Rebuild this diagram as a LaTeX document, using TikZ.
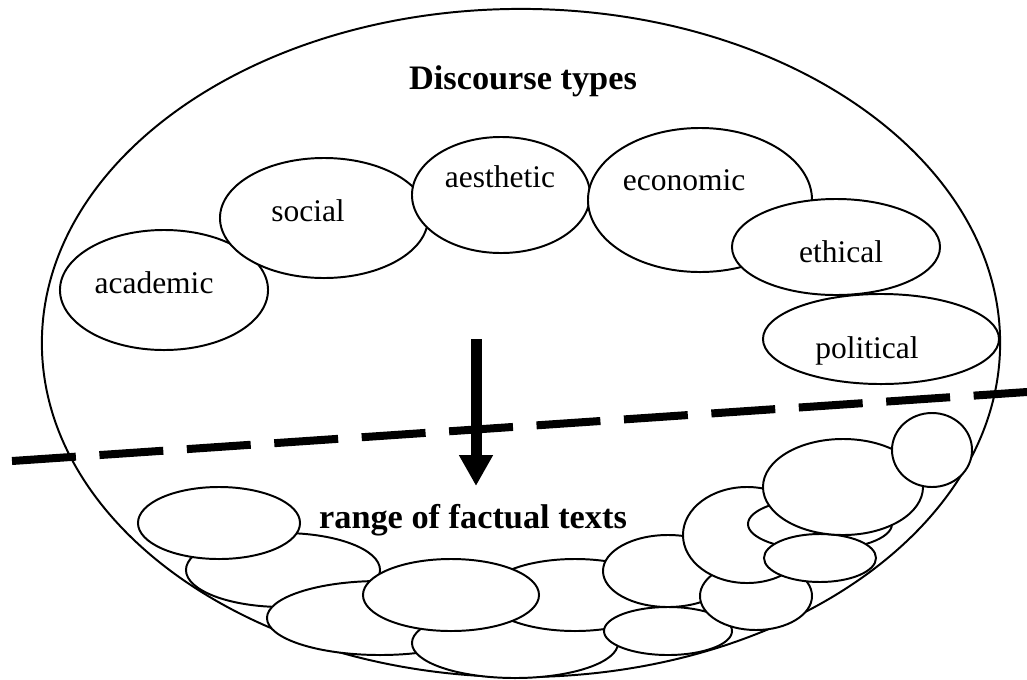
\documentclass[tikz,border=0pt]{standalone}
\usepackage{fontspec}
\setmainfont{Liberation Serif}
\usetikzlibrary{arrows.meta, shapes.geometric}

\begin{document}
\begin{tikzpicture}[x=0.025cm, y=-0.025cm,
        blob/.style 2 args={ellipse, draw, fill=white, line width=1.4pt, inner sep=0pt, minimum width=#1, minimum height=#2},
        word/.style={font=\fontsize{22.4}{26}\selectfont, inner sep=0pt, anchor=base},
        heading/.style={font=\fontsize{24.4}{28}\selectfont\bfseries, inner sep=0pt, anchor=base},
        push/.style={line width=0.275cm, -{Triangle[width=0.8cm, length=0.775cm]}},
        cut/.style={line width=0.2cm, dash pattern=on 1.6cm off 0.59cm}]
    \useasboundingbox (0,0) rectangle (1027,679);

    % outer discourse field
    \node [blob={23.95cm}{16.7cm}] (field) at (521,343) {};
    \node [heading] (title) at (523,89) {Discourse types};

    % discourse types
    \node [blob={5.2cm}{3.0cm}] (academic) at (164,290) {};
    \node [blob={5.2cm}{3.0cm}] (social) at (324,218) {};
    \node [blob={4.45cm}{2.9cm}] (aesthetic) at (501,195) {};
    \node [blob={5.6cm}{3.6cm}] (economic) at (700,200) {};
    \node [blob={5.2cm}{2.4cm}] (ethical) at (836,247) {};
    \node [blob={5.9cm}{2.25cm}] (political) at (881,339) {};
    \node [word] at (154,293) {academic};
    \node [word] at (308,221) {social};
    \node [word] at (500,187) {aesthetic};
    \node [word] at (684,190) {economic};
    \node [word] at (841,262) {ethical};
    \node [word] at (867,358) {political};

    % factual texts
    \node [blob={4.85cm}{1.85cm}] (f2) at (283,570) {};
    \node [blob={4.05cm}{1.8cm}] (f1) at (219,523) {};
    \node [blob={5.65cm}{1.85cm}] (f3) at (380,618) {};
    \node [blob={5.15cm}{1.75cm}] (f6) at (515,643) {};
    \node [blob={4.5cm}{1.8cm}] (f5) at (575,595) {};
    \node [blob={4.4cm}{1.8cm}] (f4) at (451,595) {};
    \node [blob={3.25cm}{1.8cm}] (f7) at (668,571) {};
    \node [blob={3.2cm}{1.2cm}] (f8) at (668,631) {};
    \node [blob={2.8cm}{1.7cm}] (f10) at (756,596) {};
    \node [blob={3.2cm}{2.4cm}] (f9) at (747,535) {};
    \node [blob={3.6cm}{1.3cm}] (f11) at (820,524) {};
    \node [blob={2.8cm}{1.2cm}] (f12) at (820,558) {};
    \node [blob={4.0cm}{2.4cm}] (f13) at (843,487) {};
    \node [blob={2.0cm}{1.85cm}] (f14) at (932,450) {};
    \node [heading] (range) at (473,528) {range of factual texts};

    % arrow and boundary
    \coordinate (src) at (476,339);
    \coordinate (dst) at (476,486);
    \draw [push] (src) -- (dst);
    \coordinate (cutL) at (12,461);
    \coordinate (cutR) at (1027,392);
    \draw [cut] (cutL) -- (cutR);
\end{tikzpicture}
\end{document}
